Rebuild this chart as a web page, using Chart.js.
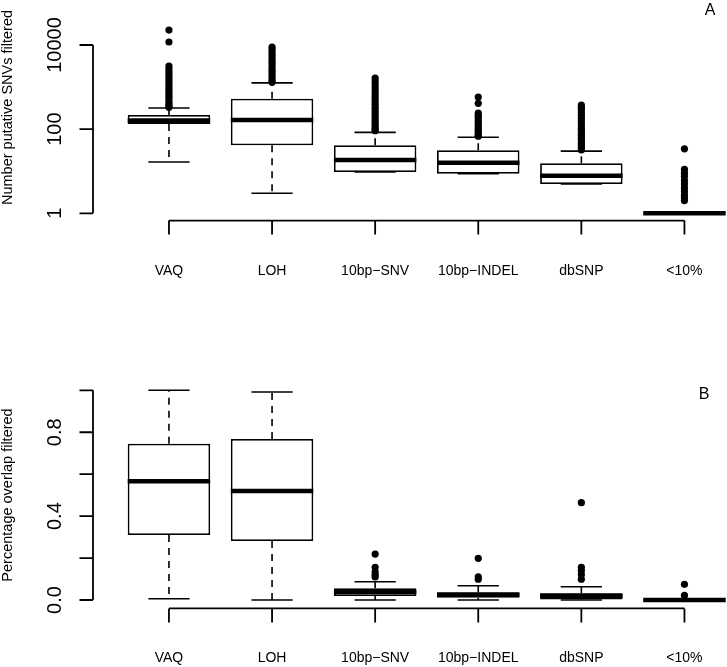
<!DOCTYPE html>
<html><head><meta charset="utf-8">
<script src="https://cdn.jsdelivr.net/npm/chart.js@4.4.1/dist/chart.umd.min.js"></script>
<style>
html,body{margin:0;padding:0;background:#fff;overflow:hidden;width:727px;height:667px;}
#wrap{position:relative;width:727px;height:667px;overflow:hidden;background:#fff;}
canvas{position:absolute;left:0;}
</style></head><body>
<div id="wrap">
<canvas id="cA" width="740" height="333" style="top:0;width:740px;height:333px"></canvas>
<canvas id="cB" width="740" height="334" style="top:333px;width:740px;height:334px"></canvas>
</div>
<script>
// ---------- categories ----------
const categories = ["VAQ", "LOH", "10bp\u2212SNV", "10bp\u2212INDEL", "dbSNP", "<10%"];

// ---------- Panel A : Number putative SNVs filtered (log scale) ----------
const aWhiskerLow  = [16.6, 3.0, 9.6, 8.7, 4.97, 1];
const aQ1          = [132, 41.3, 9.6, 8.7, 4.97, 1];
const aMedian      = [159, 165, 18.5, 15.9, 7.8, 1];
const aQ3          = [217, 530, 41.3, 31.4, 15.4, 1];
const aWhiskerHigh = [318, 1260, 84, 64, 30, 1];
const aOutliers = [
  [22700, 11800, 3170, 2700, 2300, 2000, 1700, 1450, 1250, 1080, 930, 800, 690, 600, 520, 450, 400, 360, 330],
  [8960, 8000, 7000, 6000, 5200, 4500, 3900, 3400, 2900, 2500, 2200, 1900, 1650, 1450, 1300],
  [1640, 1400, 1200, 1000, 850, 720, 620, 530, 450, 390, 330, 290, 250, 215, 185, 160, 140, 125, 110, 100, 92],
  [580, 411, 242, 215, 190, 165, 145, 128, 112, 100, 90, 80, 72, 68],
  [375, 330, 290, 250, 215, 185, 160, 140, 120, 105, 92, 80, 70, 61, 53, 46, 41, 36, 32],
  [34, 11, 9, 7.5, 6, 5, 4, 3.3, 2.7, 2.3, 2]
];
const aTicks = [1, 100, 10000];
const aTickLabels = ["1", "100", "10000"];

// ---------- Panel B : Percentage overlap filtered ----------
const bWhiskerLow  = [0.006, 0.0, 0.0, 0.0, 0.0, 0.0];
const bQ1          = [0.31, 0.281, 0.019, 0.011, 0.003, 0.0];
const bMedian      = [0.566, 0.52, 0.038, 0.025, 0.02, 0.0];
const bQ3          = [0.745, 0.768, 0.056, 0.037, 0.032, 0.0];
const bWhiskerHigh = [1.0, 0.992, 0.087, 0.068, 0.063, 0.0];
const bOutliers = [
  [],
  [],
  [0.219, 0.156, 0.134, 0.12, 0.11],
  [0.199, 0.111, 0.099],
  [0.464, 0.156, 0.14, 0.12, 0.099],
  [0.075, 0.022]
];
const bTicks = [0, 0.2, 0.4, 0.6, 0.8, 1.0];
const bTickLabels = ["0.0", "", "0.4", "", "0.8", ""];

const FONT = '"Liberation Sans", Arial, Helvetica, sans-serif';

const rBoxPlugin = {
  id: 'rbox',
  afterDatasetsDraw(chart, args, o) {
    const ctx = chart.ctx;
    const xs = chart.scales.x, ys = chart.scales.y;
    const ca = chart.chartArea;
    const boxW = xs.getPixelForValue(1) - xs.getPixelForValue(0);
    const half = boxW * 0.4, cap = boxW * 0.2;
    ctx.save();
    ctx.strokeStyle = '#000';
    ctx.fillStyle = '#000';
    for (let i = 0; i < categories.length; i++) {
      const cx = xs.getPixelForValue(i);
      const pLo = ys.getPixelForValue(o.lo[i]);
      const pQ1 = ys.getPixelForValue(o.q1[i]);
      const pMd = ys.getPixelForValue(o.med[i]);
      const pQ3 = ys.getPixelForValue(o.q3[i]);
      const pHi = ys.getPixelForValue(o.hi[i]);
      ctx.lineWidth = 1.6;
      ctx.setLineDash([7, 6]);
      ctx.beginPath();
      ctx.moveTo(cx, pQ1); ctx.lineTo(cx, pLo);
      ctx.moveTo(cx, pQ3); ctx.lineTo(cx, pHi);
      ctx.stroke();
      ctx.setLineDash([]);
      ctx.beginPath();
      ctx.moveTo(cx - cap, pLo); ctx.lineTo(cx + cap, pLo);
      ctx.moveTo(cx - cap, pHi); ctx.lineTo(cx + cap, pHi);
      ctx.stroke();
      ctx.lineWidth = 4.6;
      ctx.beginPath();
      ctx.moveTo(cx - half, pMd); ctx.lineTo(cx + half, pMd);
      ctx.stroke();
    }
    // y axis (R style)
    const axX = o.yAxisX;
    ctx.lineWidth = 1.8;
    const t0 = ys.getPixelForValue(o.ticks[0]);
    const t1 = ys.getPixelForValue(o.ticks[o.ticks.length - 1]);
    ctx.beginPath();
    ctx.moveTo(axX, t0); ctx.lineTo(axX, t1);
    o.ticks.forEach(t => { const p = ys.getPixelForValue(t); ctx.moveTo(axX, p); ctx.lineTo(axX - 13.5, p); });
    ctx.stroke();
    ctx.font = '20px ' + FONT;
    ctx.textAlign = 'center';
    ctx.textBaseline = 'middle';
    o.ticks.forEach((t, k) => {
      if (!o.tickLabels[k]) return;
      const p = ys.getPixelForValue(t);
      ctx.save();
      ctx.translate(55, p);
      ctx.rotate(-Math.PI / 2);
      ctx.fillText(o.tickLabels[k], 0, 0);
      ctx.restore();
    });
    // x axis (R style)
    const xb = ca.bottom;
    const xl = xs.getPixelForValue(0), xr = xs.getPixelForValue(categories.length - 1);
    ctx.beginPath();
    ctx.moveTo(xl, xb); ctx.lineTo(xr, xb);
    for (let i = 0; i < categories.length; i++) {
      const cx = xs.getPixelForValue(i);
      ctx.moveTo(cx, xb); ctx.lineTo(cx, xb + 14);
    }
    ctx.stroke();
    ctx.font = '14px ' + FONT;
    for (let i = 0; i < categories.length; i++) {
      ctx.fillText(categories[i], xs.getPixelForValue(i), xb + o.labelOffset);
    }
    // y title
    ctx.font = '14.5px ' + FONT;
    ctx.save();
    ctx.translate(o.titleX, o.titleY);
    ctx.rotate(-Math.PI / 2);
    ctx.fillText(o.title, 0, 0);
    ctx.restore();
    // panel letter
    ctx.font = '16px ' + FONT;
    ctx.fillText(o.letter, o.letterX, o.letterY);
    ctx.restore();
  }
};

function makeChart(id, yScale, q1, med, q3, lo, hi, outl, extra, padding) {
  const pts = [];
  outl.forEach((arr, i) => arr.forEach(v => pts.push({ x: categories[i], y: v })));
  return new Chart(document.getElementById(id), {
    type: 'bar',
    data: {
      labels: categories,
      datasets: [
        {
          label: 'box',
          data: q1.map((v, i) => [v, q3[i]]),
          backgroundColor: '#ffffff',
          borderColor: '#000000',
          borderWidth: 1.8,
          borderSkipped: false,
          barPercentage: 0.8,
          categoryPercentage: 1.0
        },
        {
          type: 'scatter',
          label: 'outliers',
          data: pts,
          pointRadius: 3.6,
          pointBackgroundColor: '#000',
          pointBorderWidth: 0,
          showLine: false
        }
      ]
    },
    options: {
      responsive: false,
      animation: false,
      events: [],
      layout: { padding: padding },
      plugins: {
        legend: { display: false },
        tooltip: { enabled: false },
        rbox: Object.assign({ q1: q1, med: med, q3: q3, lo: lo, hi: hi }, extra)
      },
      scales: {
        x: { type: 'category', display: false, offset: true },
        y: yScale
      }
    },
    plugins: [rBoxPlugin]
  });
}

makeChart('cA',
  { type: 'logarithmic', display: false, min: 0.67, max: 33900 },
  aQ1, aMedian, aQ3, aWhiskerLow, aWhiskerHigh, aOutliers,
  { ticks: aTicks, tickLabels: aTickLabels, yAxisX: 93, labelOffset: 51,
    title: 'Number putative SNVs filtered', titleX: 8, titleY: 107.5,
    letter: 'A', letterX: 710, letterY: 11 },
  { left: 117.4, right: 3.4, top: 22.7, bottom: 112.4 });

makeChart('cB',
  { type: 'linear', display: false, min: -0.04, max: 1.04 },
  bQ1, bMedian, bQ3, bWhiskerLow, bWhiskerHigh, bOutliers,
  { ticks: bTicks, tickLabels: bTickLabels, yAxisX: 93, labelOffset: 49.5,
    title: 'Percentage overlap filtered', titleX: 8, titleY: 162,
    letter: 'B', letterX: 704, letterY: 62 },
  { left: 117.4, right: 3.4, top: 48.9, bottom: 58.6 });
</script>
</body></html>
